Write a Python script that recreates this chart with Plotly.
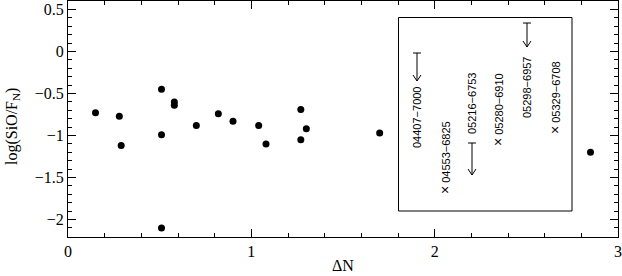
import plotly.graph_objects as go

# ---- data ----
delta_n = [0.15, 0.28, 0.29, 0.51, 0.51, 0.51, 0.58, 0.58, 0.70, 0.82, 0.90,
           1.04, 1.08, 1.27, 1.27, 1.30, 1.70, 2.85]
log_sio = [-0.73, -0.77, -1.12, -0.45, -0.99, -2.10, -0.60, -0.64, -0.88, -0.74, -0.83,
           -0.88, -1.10, -0.69, -1.05, -0.92, -0.97, -1.20]

legend_names = ["04407\u22127000", "04553\u22126825", "05216\u22126753",
                "05280\u22126910", "05298\u22126957", "05329\u22126708"]
legend_cross = [False, True, False, True, False, True]

x_ticks = [0, 1, 2, 3]
y_ticks = [0.5, 0, -0.5, -1, -1.5, -2]

# ---- layout geometry (pixels) ----
W, H = 622, 276
L, R, T, B = 68, 4, 1, 39
PW, PH = W - L - R, H - T - B


def px(x):
    return (x - L) / PW


def py(y):
    return (H - B - y) / PH


fig = go.Figure()
fig.add_trace(go.Scatter(
    x=delta_n, y=log_sio, mode="markers",
    marker=dict(color="black", size=7), showlegend=False, hoverinfo="x+y"))

serif = "Liberation Serif, Times New Roman, serif"
axis_common = dict(showline=True, linecolor="black", linewidth=1, mirror="ticks",
                   ticks="inside", ticklen=8, tickcolor="black", tickwidth=1,
                   showgrid=False, zeroline=False,
                   tickfont=dict(family=serif, size=16, color="black"))

fig.update_xaxes(range=[0, 3], tickvals=x_ticks, ticktext=[str(v) for v in x_ticks],
                 minor=dict(dtick=0.2, ticks="inside", ticklen=4, tickcolor="black"),
                 **axis_common)
fig.update_yaxes(range=[-2.208, 0.601], tickvals=y_ticks,
                 ticktext=[("\u2212" if v < 0 else "") + ("%g" % abs(v)) for v in y_ticks],
                 minor=dict(dtick=0.1, tick0=0, ticks="inside", ticklen=4, tickcolor="black"),
                 **axis_common)

shapes = []
annotations = []

# legend box
shapes.append(dict(type="rect", xref="paper", yref="paper",
                   x0=px(398.5), x1=px(572), y0=py(211), y1=py(17.5),
                   line=dict(color="black", width=1), fillcolor="rgba(0,0,0,0)"))

sans = "Liberation Sans, Arial, sans-serif"
label_pos = [(417, 118), (445, 158), (472, 104), (498, 110), (527, 88), (555, 98)]
for name, cross, (cx, cy) in zip(legend_names, legend_cross, label_pos):
    text = ("<span style='font-size:14px'>\u00d7</span> " + name) if cross else name
    annotations.append(dict(text=text, xref="paper", yref="paper", x=px(cx), y=py(cy),
                            xanchor="center", yanchor="middle", textangle=-90,
                            showarrow=False, font=dict(family=sans, size=11, color="black")))


def limit_arrow(x, y_tail, y_head):
    hw = 4
    path = (f"M {px(x - hw)},{py(y_tail)} L {px(x + hw)},{py(y_tail)} "
            f"M {px(x)},{py(y_tail)} L {px(x)},{py(y_head)} "
            f"M {px(x - hw)},{py(y_head - 6)} L {px(x)},{py(y_head)} L {px(x + hw)},{py(y_head - 6)}")
    shapes.append(dict(type="path", xref="paper", yref="paper", path=path,
                       line=dict(color="black", width=1)))


limit_arrow(417, 53, 81)
limit_arrow(472, 143, 175)
limit_arrow(527, 23, 47)

# axis titles
annotations.append(dict(text="log(SiO/F<sub>N</sub>)", xref="paper", yref="paper",
                        x=px(12), y=py(127), xanchor="center", yanchor="middle",
                        textangle=-90, showarrow=False,
                        font=dict(family=serif, size=16, color="black")))
annotations.append(dict(text="\u0394N", xref="paper", yref="paper",
                        x=px(343), y=py(265), xanchor="center", yanchor="middle",
                        showarrow=False, font=dict(family=serif, size=16, color="black")))

fig.update_layout(width=W, height=H, margin=dict(l=L, r=R, t=T, b=B),
                  paper_bgcolor="white", plot_bgcolor="white",
                  shapes=shapes, annotations=annotations, showlegend=False)

fig.write_html("out.html", config={"displayModeBar": False},
               post_script="document.body.style.margin='0';document.body.style.padding='0';")
